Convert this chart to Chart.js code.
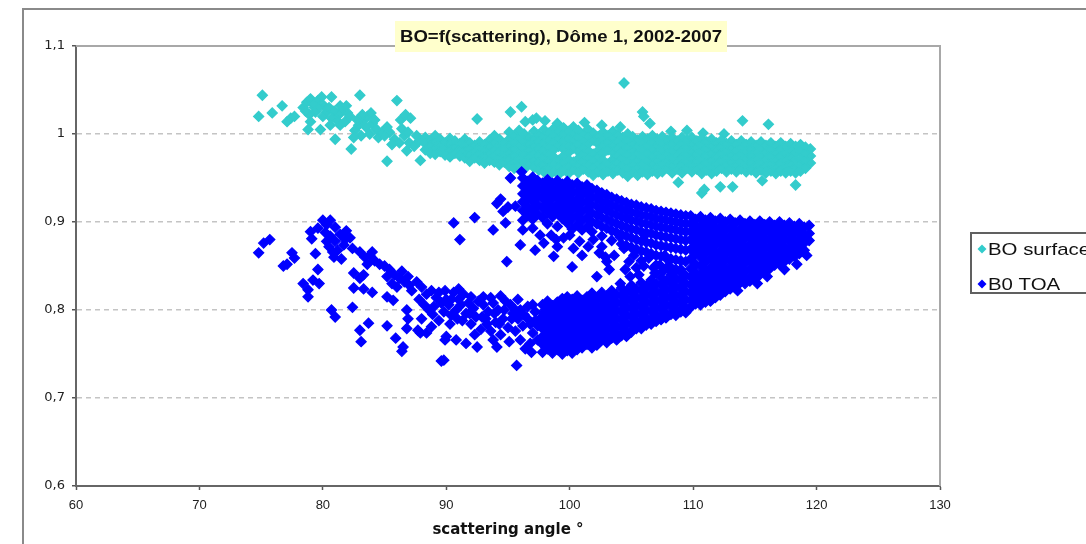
<!DOCTYPE html>
<html><head><meta charset="utf-8">
<script src="https://cdn.jsdelivr.net/npm/chart.js@4.4.1/dist/chart.umd.min.js"></script>
<style>html,body{margin:0;padding:0;background:#fff;overflow:hidden}canvas{display:block}</style>
</head><body>
<canvas id="c" width="1086" height="544"></canvas>
<script>
// ---------- text ----------
const chartTitle = 'BO=f(scattering), Dôme 1, 2002-2007';
const xTitle = 'scattering angle °';
const seriesNames = ['BO surface', 'B0 TOA'];
const xTickValues = [60, 70, 80, 90, 100, 110, 120, 130];
const yTickValues = [0.6, 0.7, 0.8, 0.9, 1.0, 1.1];
const yTickLabels = ['0,6', '0,7', '0,8', '0,9', '1', '1,1'];

// ---------- BO surface ----------
const surfaceScatter = [
[74.8,1.020],[75.1,1.044],[75.9,1.024],[76.7,1.032],[77.1,1.014],[77.4,1.018],[77.7,1.020],
[78.4,1.030],[78.7,1.036],[79.0,1.040],[79.3,1.030],[79.6,1.038],[79.9,1.042],[79.4,1.025],[78.9,1.022],[80.1,1.032],[80.3,1.025],[78.8,1.005],[79.8,1.005],[80.7,1.042],[78.6,1.026],[79.2,1.034],[79.7,1.030],[80.0,1.020],[79.0,1.014],
[80.5,1.030],[80.9,1.026],[81.3,1.022],[81.6,1.028],[82.0,1.024],[81.1,1.016],[81.8,1.014],[82.2,1.020],[80.7,1.018],[81.0,0.994],[82.3,0.983],[83.0,1.044],[81.4,1.032],[81.9,1.032],[80.6,1.010],[81.4,1.010],
[82.6,1.004],[82.9,1.010],[83.3,1.016],[83.6,1.020],[84.0,1.012],[84.3,1.006],[83.1,0.998],[83.8,1.000],[84.5,0.996],[82.8,1.016],[83.5,1.008],[84.8,1.002],[83.2,1.022],[83.9,1.024],[84.2,1.016],[82.5,0.996],
[85.2,0.969],[86.0,1.038],[86.3,1.016],[86.7,1.022],[87.1,1.018],
[85.0,0.998],[85.4,1.002],[85.8,0.994],[86.2,0.990],[86.6,0.998],[87.0,0.990],[87.4,0.986],[87.8,0.992],[85.6,0.988],[86.9,1.002],[86.8,0.981],[87.9,0.970],[85.2,1.008],[86.4,1.006],[87.6,0.998],
[92.5,1.017],[95.2,1.025],[96.1,1.031],[96.4,1.014],[97.0,1.016],[97.3,1.018],[98.0,1.015],[104.1,1.008],[104.4,1.058],[105.9,1.025],[106.0,1.020],[106.5,1.012],[109.5,1.004],[110.8,1.001],[114.0,1.015],[116.1,1.011],[99.0,1.012],[101.2,1.013],[102.6,1.010],[108.2,1.003],[112.5,1.000],
[110.7,0.933],[110.9,0.937],[112.2,0.940],[113.2,0.940],[118.3,0.942],[108.8,0.945],[115.6,0.947],[99.4,0.918],[100.2,0.935]
];
const surfaceBandA = [
[88.3,[.996,.989,.982]],[88.7,[.993,.986,.978]],[89.1,[.998,.991,.984,.977]],[89.5,[.994,.987,.980]],
[89.9,[.990,.983,.976]],[90.3,[.995,.988,.981,.974]],[90.7,[.992,.985,.978]],[91.1,[.989,.982,.975]],
[91.5,[.994,.987,.980,.973]],[91.9,[.990,.983,.976,.969]],[92.3,[.987,.980,.973]],[92.7,[.991,.984,.977,.970]],
[93.1,[.988,.981,.974,.967]],[93.5,[.993,.985,.977,.970]],[93.9,[.998,.990,.982,.975,.968]],[94.3,[.994,.986,.979,.972,.965]],
[94.7,[.989,.982,.975,.968]],[95.1,[1.002,.994,.986,.978,.971,.963]],[95.5,[.998,.990,.983,.975,.968,.961]],[95.9,[1.004,.995,.987,.979,.972,.964]],
[96.3,[1.000,.992,.984,.976,.968,.960]],[96.7,[.996,.988,.981,.973,.966]],[97.1,[1.003,.994,.986,.978,.970,.962]],[97.5,[.999,.991,.983,.975,.967,.959]]
];
const surfaceBandB = [
[97.9,[1.005,.997,.989,.981,.973,.965,.957]],[98.3,[1.001,.993,.985,.977,.969,.961,.953]],[98.7,[1.006,.998,.990,.982,.974,.966,.958]],
[99.1,[1.002,.994,.986,.970,.962,.954]],[99.5,[1.007,.999,.991,.983,.975,.967,.959]],[99.9,[1.003,.995,.987,.979,.971,.963,.955]],
[100.3,[1.008,1.000,.992,.984,.968,.960]],[100.7,[1.004,.996,.988,.980,.972,.964,.956]],[101.1,[1.000,.992,.984,.976,.968,.960]],
[101.5,[1.005,.997,.989,.981,.973,.965,.957]],[101.9,[1.001,.993,.977,.969,.961,.953]],[102.3,[.997,.989,.981,.973,.965,.957]],
[102.7,[1.002,.994,.986,.978,.970,.962,.954]],[103.1,[.998,.990,.982,.966,.958]],[103.5,[1.003,.995,.987,.979,.971,.963,.955]],
[103.9,[.999,.991,.983,.975,.967,.959]],[104.3,[.996,.988,.980,.972,.964,.956]],[104.7,[1.000,.992,.984,.976,.968,.960,.952]],
[105.1,[.997,.989,.981,.973,.965,.957]]
];
const surfaceBandC = [
[105.5,[.993,.985,.977,.969,.961,.953]],[105.9,[.997,.989,.981,.973,.965,.957]],[106.3,[.994,.986,.978,.970,.962,.954]],
[106.7,[.998,.990,.982,.974,.966,.958]],[107.1,[.994,.986,.978,.970,.962,.955]],[107.5,[.997,.989,.981,.973,.965,.957]],
[107.9,[.993,.985,.977,.969,.961]],[108.3,[.996,.988,.980,.972,.964,.956]],[108.7,[.992,.984,.976,.968,.960]],
[109.1,[.996,.988,.980,.972,.964,.956]],[109.5,[.993,.985,.977,.969,.961]],[109.9,[.996,.988,.980,.972,.964,.957]],
[110.3,[.992,.984,.976,.968,.960]],[110.7,[.995,.987,.979,.971,.963,.955]],[111.1,[.991,.983,.975,.967,.959]],
[111.5,[.994,.986,.978,.970,.962,.955]],[111.9,[.990,.982,.974,.966,.958]],[112.3,[.993,.985,.977,.969,.961]],
[112.7,[.989,.981,.973,.965,.957]],[113.1,[.992,.984,.976,.968,.960]],[113.5,[.988,.980,.972,.964,.957]],
[113.9,[.992,.984,.976,.968,.960]],[114.3,[.988,.980,.972,.964,.957]],[114.7,[.991,.983,.975,.967,.959]],
[115.1,[.987,.979,.971,.963,.956]],[115.5,[.991,.983,.975,.967,.959]],[115.9,[.987,.979,.971,.963,.956]],
[116.3,[.990,.982,.974,.966,.958]],[116.7,[.986,.978,.970,.962,.955]],[117.1,[.990,.982,.974,.966,.958]],
[117.5,[.986,.978,.970,.962,.956]],[117.9,[.989,.981,.973,.965,.958]],[118.3,[.986,.978,.970,.962,.956]],
[118.7,[.988,.980,.972,.964,.958]],[119.1,[.985,.977,.969,.961]],[119.5,[.983,.975,.967]]
];

// ---------- B0 TOA ----------
const toaScatterLeft = [
[74.8,0.865],[75.2,0.876],[75.7,0.880],[76.8,0.850],[77.1,0.852],[77.5,0.865],[77.7,0.859],
[78.4,0.830],[78.8,0.823],[78.8,0.815],[79.2,0.834],[79.7,0.830],[79.6,0.846],[79.4,0.864],
[79.0,0.889],[79.1,0.881],[79.6,0.893],[80.0,0.902],[80.6,0.902],[80.3,0.897],
[80.2,0.888],[80.6,0.884],[81.0,0.878],[81.4,0.886],[81.9,0.890],[82.2,0.882],[80.5,0.872],[81.2,0.868],[81.7,0.874],[82.4,0.870],[80.9,0.860],[81.5,0.858],[80.3,0.878],[81.0,0.894],[81.8,0.880],[80.8,0.866],
[80.7,0.800],[81.0,0.792],[82.4,0.803],[82.5,0.825],[83.3,0.824],[84.0,0.820],
[82.5,0.842],[83.0,0.836],[83.3,0.840],
[83.0,0.866],[83.4,0.860],[83.8,0.862],[84.2,0.856],[84.6,0.852],[83.6,0.852],[84.0,0.866],
[83.0,0.777],[83.7,0.785],[83.1,0.764],[85.2,0.782],
[85.0,0.850],[85.4,0.846],[85.8,0.840],[86.2,0.836],[86.6,0.832],[87.0,0.828],[85.6,0.830],[86.4,0.844],[86.9,0.838],[85.2,0.838],[87.2,0.822],[86.0,0.826],
[85.2,0.815],[85.7,0.811],[85.9,0.768],[86.5,0.758],[86.4,0.753],[86.8,0.800],[86.9,0.790],[86.8,0.779],[87.7,0.777],[87.9,0.774]
];
const toaLowerMid = [
[87.6,0.832],[88.0,0.826],[88.4,0.818],[88.8,0.822],[89.2,0.814],[89.6,0.808],[88.2,0.806],[88.6,0.800],[89.0,0.804],[87.8,0.812],[90.0,0.812],[88.4,0.774],[88.8,0.781],[89.8,0.743],[89.6,0.742],[89.9,0.766],
[90.6,0.820],[91.0,0.812],[91.4,0.818],[91.8,0.808],[92.2,0.802],[92.6,0.810],[90.8,0.800],[91.6,0.796],[92.4,0.792],[91.2,0.806],[90.2,0.806],[91.0,0.824],
[90.0,0.770],[90.8,0.766],[91.6,0.762],[92.5,0.758],
[93.0,0.806],[93.4,0.798],[93.8,0.808],[94.2,0.800],[94.6,0.790],[93.2,0.790],[94.0,0.786],[94.8,0.810],[93.6,0.814],[94.4,0.816],
[93.8,0.766],[94.1,0.758],[95.7,0.737],
[95.4,0.796],[95.8,0.790],[96.2,0.782],[96.6,0.790],[97.0,0.774],[97.4,0.782],[95.6,0.776],[96.0,0.766],[96.8,0.762],[97.2,0.798],[95.2,0.806],[96.4,0.756],[96.0,0.800],[96.6,0.804],[97.6,0.790],[95.8,0.812],
[90.4,0.794],[91.3,0.788],[92.0,0.784],[92.8,0.778],[93.6,0.776],[94.4,0.772],[95.0,0.780],[95.1,0.764],[96.9,0.752],[97.4,0.766],
[88.0,0.790],[88.9,0.795],[89.4,0.788],[89.8,0.798],[90.3,0.784],[90.9,0.790],[91.9,0.796],[92.3,0.772],[92.9,0.792],[93.3,0.784],
[93.9,0.796],[94.3,0.784],[94.7,0.800],[95.3,0.790],[95.6,0.800],[96.3,0.795],[96.8,0.784],[97.2,0.788],[97.0,0.806],[93.0,0.815],
[92.0,0.815],[89.9,0.822],[90.4,0.812],[89.4,0.820]
];
const toaInner = [
[90.6,0.899],[91.1,0.880],[92.3,0.905],[93.8,0.891],[94.8,0.899],[94.9,0.855],[96.0,0.874],[96.2,0.891],
[94.1,0.921],[94.6,0.912],[95.0,0.917],[95.6,0.918],[95.2,0.950],[96.1,0.957],[94.4,0.926],
[97.9,0.876],[98.7,0.861],[100.0,0.885],[100.3,0.870],[100.2,0.849],[99.8,0.815],
[101.9,0.880],[102.9,0.860],[102.2,0.838],[104.1,0.883],[104.4,0.870],[105.2,0.862],[105.6,0.840],[104.1,0.830],[104.9,0.838],
[106.1,0.885],[106.4,0.859],[107.0,0.851],[107.7,0.862],[97.2,0.868],[99.0,0.872],[101.0,0.862],[103.2,0.846],[102.6,0.872],[108.6,0.846],[106.9,0.842],
[103.6,0.862],[104.8,0.855],[105.4,0.848],[106.0,0.850],[106.8,0.848],[107.3,0.851],[108.0,0.850],[108.3,0.843],[107.6,0.845],[105.8,0.856],
[104.5,0.846],[103.0,0.855],[102.4,0.865],[101.5,0.872],[100.8,0.878],[99.5,0.882],[98.5,0.885],[97.6,0.885],[98.9,0.880]
];
const toaUpperArm = [
[96.2,[.950,.941,.932,.923,.913,.902]],[96.6,[.946,.937,.928,.918,.908]],[97.0,[.951,.942,.933,.924,.914,.903,.893]],
[97.4,[.947,.938,.929,.919,.909]],[97.8,[.944,.935,.926,.916,.905]],[98.2,[.948,.939,.930,.921,.911,.898]],
[98.6,[.944,.935,.926,.916,.906]],[99.0,[.947,.938,.929,.920,.910,.895]],[99.4,[.943,.934,.925,.915,.904]],
[99.8,[.946,.937,.928,.919,.909,.899]],[100.2,[.942,.933,.924,.914,.904,.892]],[100.6,[.944,.935,.926,.917,.907,.897]],
[101.0,[.940,.931,.922,.912,.902,.891]],[101.4,[.942,.933,.924,.915,.905,.895]],[101.8,[.938,.929,.920,.910,.900,.889]],
[102.2,[.936,.927,.918,.908,.898]],[102.6,[.933,.924,.915,.905,.895,.884]],[103.0,[.931,.922,.913,.903,.893]],
[103.4,[.928,.919,.910,.900,.890,.879]],[103.8,[.926,.917,.908,.898,.888]],[104.2,[.924,.915,.906,.896,.886,.875]],
[104.6,[.922,.913,.904,.894,.884,.873]],[105.0,[.920,.911,.902,.892,.882,.871]],[105.4,[.919,.910,.901,.891,.880,.869]],
[105.8,[.917,.908,.899,.889,.878,.867]],[106.2,[.916,.907,.898,.888,.877,.866]],[106.6,[.915,.906,.897,.887,.876,.864]],
[107.0,[.913,.904,.895,.885,.874,.862]],[107.4,[.912,.903,.894,.884,.873,.861]],[107.8,[.911,.902,.893,.883,.872,.859]],
[108.2,[.910,.901,.892,.882,.871,.858,.848]],[108.6,[.909,.900,.891,.881,.870,.857]],[109.0,[.908,.899,.890,.880,.869,.856,.846]],
[109.4,[.907,.898,.889,.879,.868,.855]]
];
const toaLowerArm = [
[97.8,[.806,.797,.788,.779,.770,.761,.752]],[98.2,[.810,.801,.792,.783,.774,.765,.756]],[98.6,[.805,.796,.787,.778,.769,.760,.751]],
[99.0,[.809,.800,.791,.782,.773,.764,.755]],[99.4,[.813,.804,.795,.786,.777,.768,.759,.750]],[99.8,[.808,.799,.790,.781,.772,.763,.754]],
[100.2,[.812,.803,.794,.785,.776,.767,.758,.751]],[100.6,[.816,.807,.798,.789,.780,.771,.762,.755]],[101.0,[.811,.802,.793,.784,.775,.766,.757]],
[101.4,[.815,.806,.797,.788,.779,.770,.761]],[101.8,[.819,.810,.801,.792,.783,.774,.765,.757]],[102.2,[.814,.805,.796,.787,.778,.769,.760]],
[102.6,[.820,.811,.802,.793,.784,.775,.766]],[103.0,[.816,.807,.798,.789,.780,.771,.763]],[103.4,[.822,.813,.804,.795,.786,.777,.768]],
[103.8,[.818,.809,.800,.791,.782,.773,.766]],[104.2,[.825,.816,.807,.798,.789,.780,.771]],[104.6,[.821,.812,.803,.794,.785,.776,.770]],
[105.0,[.828,.819,.810,.801,.792,.783,.775]],[105.4,[.824,.815,.806,.797,.788,.779]],[105.8,[.831,.822,.813,.804,.795,.786,.779]],
[106.2,[.827,.818,.809,.800,.791,.783]],[106.6,[.834,.825,.816,.807,.798,.789,.784]],[107.0,[.830,.821,.812,.803,.794,.787]],
[107.4,[.837,.828,.819,.810,.801,.792,.789]],[107.8,[.833,.824,.815,.806,.797,.791]],[108.2,[.840,.831,.822,.813,.804,.795]],
[108.6,[.836,.827,.818,.809,.800,.794]],[109.0,[.843,.834,.825,.816,.807,.798]],[109.4,[.839,.830,.821,.812,.803,.797]]
];
const toaWedge = [
[109.8,[.907,.898,.889,.880,.869,.858,.847,.838,.829,.820,.811,.803]],[110.2,[.903,.894,.885,.875,.864,.852,.843,.834,.825,.816,.807]],
[110.6,[.906,.897,.888,.879,.870,.860,.850,.840,.831,.822,.813,.806]],[111.0,[.902,.893,.884,.874,.865,.855,.845,.836,.827,.818,.809]],
[111.4,[.905,.896,.887,.878,.869,.859,.849,.840,.831,.822,.813,.810]],[111.8,[.901,.892,.883,.874,.864,.854,.845,.836,.827,.818,.814]],
[112.2,[.904,.895,.886,.877,.868,.859,.850,.841,.832,.823,.817]],[112.6,[.900,.891,.882,.873,.864,.855,.846,.837,.828,.821]],
[113.0,[.903,.894,.885,.876,.867,.858,.849,.840,.831,.824]],[113.4,[.899,.890,.881,.872,.863,.854,.845,.836,.828]],
[113.8,[.902,.893,.884,.875,.866,.857,.848,.839,.831]],[114.2,[.898,.889,.880,.871,.862,.853,.844,.835,.830]],
[114.6,[.901,.892,.883,.874,.865,.856,.847,.838,.833]],[115.0,[.897,.888,.879,.870,.861,.852,.843,.836]],
[115.4,[.901,.892,.883,.874,.865,.856,.847,.840]],[115.8,[.897,.888,.879,.870,.861,.852,.844]],
[116.2,[.900,.891,.882,.873,.864,.855,.847]],[116.6,[.896,.887,.878,.869,.860,.851]],
[117.0,[.900,.891,.882,.873,.864,.855,.852]],[117.4,[.896,.887,.878,.869,.860,.855]],
[117.8,[.899,.890,.881,.872,.863,.858]],[118.2,[.895,.886,.877,.868,.861]],
[118.6,[.898,.889,.880,.871,.864]],[119.0,[.894,.885,.876,.868]],[119.4,[.896,.887,.879]]
];
const toaEdge = [[116.0,0.838],[117.4,0.846],[118.4,0.852],[115.2,0.830],[113.6,0.822],[119.2,0.862]];

// ---------- build ----------
const cols = a => a.flatMap(([x, ys]) => ys.map(y => ({x, y})));
const pairs = a => a.map(([x, y]) => ({x, y}));
const surfacePoints = [...pairs(surfaceScatter), ...cols(surfaceBandA), ...cols(surfaceBandB), ...cols(surfaceBandC)];
const toaPoints = [...pairs(toaScatterLeft), ...pairs(toaLowerMid), ...pairs(toaInner), ...cols(toaUpperArm), ...cols(toaLowerArm), ...cols(toaWedge), ...pairs(toaEdge)];

const COL_SURF = '#33CCCC', COL_TOA = '#0000FF';

const decor = {
  id: 'decor',
  beforeDraw(chart) {
    const c = chart.ctx;
    c.save();
    c.fillStyle = '#fff'; c.fillRect(0, 0, chart.width, chart.height);
    c.strokeStyle = '#8a8a8a'; c.lineWidth = 2;
    c.strokeRect(23, 9, 1200, 800);
    c.restore();
  },
  beforeDatasetsDraw(chart) {
    const c = chart.ctx, a = chart.chartArea;
    c.save();
    c.strokeStyle = '#a8a8a8'; c.lineWidth = 2;
    c.beginPath(); c.moveTo(a.left, a.top); c.lineTo(a.right, a.top); c.lineTo(a.right, a.bottom); c.stroke();
    c.restore();
  },
  afterDraw(chart) {
    const c = chart.ctx;
    // title box
    c.save();
    c.fillStyle = '#FFFFCC'; c.fillRect(395, 21, 332, 31);
    c.font = 'bold 17px "Liberation Sans Narrow", "Liberation Sans", Arial, sans-serif';
    const tw = c.measureText(chartTitle).width;
    c.translate(561, 37); c.scale(322 / tw, 1);
    c.fillStyle = '#111'; c.textAlign = 'center'; c.textBaseline = 'middle';
    c.fillText(chartTitle, 0, 0);
    c.restore();
    // legend
    c.save();
    c.fillStyle = '#fff'; c.fillRect(971, 233, 140, 60);
    c.strokeStyle = '#606060'; c.lineWidth = 2; c.strokeRect(971, 233, 140, 60);
    const rows = [[seriesNames[0], COL_SURF, 249], [seriesNames[1], COL_TOA, 284]];
    for (const [txt, col, y] of rows) {
      c.fillStyle = col;
      c.beginPath(); c.moveTo(982, y - 4.5); c.lineTo(986.5, y); c.lineTo(982, y + 4.5); c.lineTo(977.5, y); c.closePath(); c.fill();
      c.save();
      c.font = '17px "Liberation Sans", Arial, sans-serif';
      c.translate(988, y); c.scale(1.2, 1);
      c.fillStyle = '#111'; c.textAlign = 'left'; c.textBaseline = 'middle';
      c.fillText(txt, 0, 1);
      c.restore();
    }
    c.restore();
  }
};

const ds = (label, data, color, order) => ({
  label, data, order,
  backgroundColor: color, borderColor: color,
  pointStyle: 'rectRot', pointRadius: 5, borderWidth: 1.3, pointHoverRadius: 5
});

new Chart(document.getElementById('c'), {
  type: 'scatter',
  data: { datasets: [ ds(seriesNames[1], toaPoints, COL_TOA, 0), ds(seriesNames[0], surfacePoints, COL_SURF, 1) ] },
  options: {
    responsive: false, animation: false, devicePixelRatio: 1, events: [],
    layout: { padding: { left: 0, top: 46, right: 146, bottom: 0 } },
    plugins: { legend: { display: false }, tooltip: { enabled: false }, title: { display: false } },
    scales: {
      x: {
        type: 'linear', min: 60, max: 130,
        afterBuildTicks: s => { s.ticks = xTickValues.map(v => ({ value: v })); },
        afterFit: s => { s.height = 58; },
        grid: { drawOnChartArea: false, drawTicks: true, tickLength: 4, tickColor: '#555', tickWidth: 1.5 },
        border: { display: true, color: '#666', width: 2 },
        ticks: { color: '#222', font: { family: '"Liberation Sans", Arial, sans-serif', size: 13 }, padding: 8, maxRotation: 0, autoSkip: false },
        title: { display: true, text: xTitle, color: '#111', font: { family: '"DejaVu Sans", sans-serif', size: 15, weight: 'bold' }, padding: { top: 0, bottom: 5 } }
      },
      y: {
        type: 'linear', min: 0.6, max: 1.1,
        afterBuildTicks: s => { s.ticks = yTickValues.map(v => ({ value: v })); },
        afterFit: s => { s.width = 76; },
        grid: {
          color: ctx => (ctx.tick && (ctx.tick.value > 1.05 || ctx.tick.value < 0.65)) ? 'rgba(0,0,0,0)' : '#c4c4c4',
          lineWidth: 1.5, tickLength: 4, tickColor: '#555', tickWidth: 1.5
        },
        border: { display: true, color: '#666', width: 2, dash: [5, 4] },
        ticks: {
          color: '#222', font: { family: '"DejaVu Sans", sans-serif', size: 13 }, padding: 7, autoSkip: false,
          callback: v => { const i = yTickValues.findIndex(t => Math.abs(t - v) < 1e-9); return i >= 0 ? yTickLabels[i] : ''; }
        }
      }
    }
  },
  plugins: [decor]
});
</script>
</body></html>
